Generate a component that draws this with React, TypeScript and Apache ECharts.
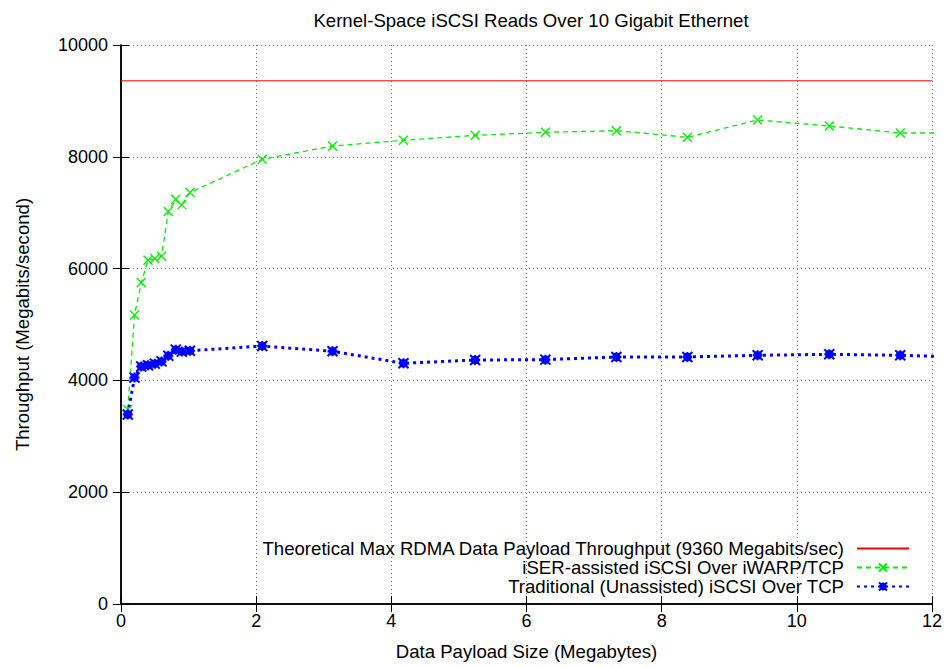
import React, { useEffect, useRef } from "react";
import * as echarts from "echarts";

const titleText = "Kernel-Space iSCSI Reads Over 10 Gigabit Ethernet";
const xName = "Data Payload Size (Megabytes)";
const yName = "Throughput (Megabits/second)";

const seriesNames = [
  "Theoretical Max RDMA Data Payload Throughput (9360 Megabits/sec)",
  "iSER-assisted iSCSI Over iWARP/TCP",
  "Traditional (Unassisted) iSCSI Over TCP",
];

const theoreticalMax = 9360;

const payloadSizes = [
  0.1, 0.2, 0.3, 0.4, 0.5, 0.6, 0.7, 0.81, 0.9, 1.02,
  2.09, 3.13, 4.18, 5.24, 6.28, 7.33, 8.38, 9.42, 10.48, 11.53, 12.58,
];

const iserThroughput = [
  3480, 5170, 5750, 6150, 6180, 6220, 7020, 7240, 7140, 7360,
  7955, 8193, 8295, 8384, 8438, 8467, 8349, 8658, 8551, 8426, 8426,
];

const traditionalThroughput = [
  3390, 4050, 4250, 4270, 4300, 4340, 4440, 4550, 4515, 4530,
  4615, 4520, 4306, 4365, 4371, 4419, 4419, 4449, 4467, 4449, 4410,
];

const xTicks = { min: 0, max: 12, interval: 2 };
const yTicks = { min: 0, max: 10000, interval: 2000 };

const FONT = "'Liberation Sans', Arial, sans-serif";
const FS = 18;
const FS_TEXT = 18.6;

const crossSymbol = "path://M0,0L10,10M10,0L0,10";
const starSymbol = "path://M0,0L10,10M10,0L0,10M5,0L5,10M0,5L10,5M2,2L8,2L8,8L2,8Z";

export default function App() {
  const ref = useRef<HTMLDivElement>(null);

  useEffect(() => {
    if (!ref.current) return;
    const chart = echarts.init(ref.current, null, { renderer: "svg" });

    const gridLine = { show: true, lineStyle: { color: "#777", type: [1, 3], width: 1 } };
    const tickIn = { show: true, inside: true, length: 8, lineStyle: { color: "#000", width: 1 } };
    const axisLineBlack = { show: true, lineStyle: { color: "#000", width: 1.5 } };

    chart.setOption({
      animation: false,
      backgroundColor: "#fff",
      textStyle: { fontFamily: FONT },
      title: {
        text: titleText,
        left: 526,
        top: 6,
        textAlign: "center",
        textStyle: { fontFamily: FONT, fontSize: FS_TEXT, fontWeight: "normal", color: "#000" },
      },
      grid: { left: 121, right: 16, top: 45, bottom: 63, containLabel: false },
      legend: {
        orient: "vertical",
        right: 38,
        top: 539,
        padding: 0,
        align: "right",
        itemWidth: 52,
        itemHeight: 10,
        itemGap: 0,
        data: [
          { name: seriesNames[0], itemStyle: { opacity: 0 } },
          { name: seriesNames[1] },
          { name: seriesNames[2] },
        ],
        textStyle: { fontFamily: FONT, fontSize: FS_TEXT, lineHeight: 19, color: "#000", padding: [0, 8, 0, 0] },
      },
      xAxis: [
        {
          type: "value",
          min: xTicks.min,
          max: xTicks.max,
          interval: xTicks.interval,
          name: xName,
          nameLocation: "middle",
          nameGap: 38,
          nameTextStyle: { fontFamily: FONT, fontSize: FS_TEXT, color: "#000" },
          axisLine: axisLineBlack,
          axisTick: tickIn,
          axisLabel: { fontFamily: FONT, fontSize: FS, color: "#000", margin: 8 },
          splitLine: gridLine,
        },
        {
          type: "value",
          position: "top",
          min: xTicks.min,
          max: xTicks.max,
          interval: xTicks.interval,
          axisLine: axisLineBlack,
          axisTick: tickIn,
          axisLabel: { show: false },
          splitLine: { show: false },
        },
      ],
      yAxis: [
        {
          type: "value",
          min: yTicks.min,
          max: yTicks.max,
          interval: yTicks.interval,
          name: yName,
          nameLocation: "middle",
          nameGap: 89,
          nameTextStyle: { fontFamily: FONT, fontSize: FS_TEXT, color: "#000" },
          axisLine: axisLineBlack,
          axisTick: tickIn,
          axisLabel: { fontFamily: FONT, fontSize: FS, color: "#000", margin: 13, formatter: (v: number) => String(v) },
          splitLine: gridLine,
        },
        {
          type: "value",
          position: "right",
          min: yTicks.min,
          max: yTicks.max,
          interval: yTicks.interval,
          axisLine: axisLineBlack,
          axisTick: tickIn,
          axisLabel: { show: false },
          splitLine: { show: false },
        },
      ],
      series: [
        {
          name: seriesNames[0],
          type: "line",
          data: [[xTicks.min, theoreticalMax], [xTicks.max, theoreticalMax]],
          showSymbol: false,
          symbol: "none",
          color: "#ff0000",
          itemStyle: { opacity: 0 },
          lineStyle: { color: "#ff0000", width: 1 },
        },
        {
          name: seriesNames[1],
          type: "line",
          data: payloadSizes.map((x, i) => [x, iserThroughput[i]]),
          symbol: crossSymbol,
          symbolSize: 9,
          color: "#00ee00",
          itemStyle: { color: "none", borderColor: "#00ee00", borderWidth: 1.3 },
          lineStyle: { color: "#00ee00", width: 1.3, type: [5, 4] },
          clip: true,
        },
        {
          name: seriesNames[2],
          type: "line",
          data: payloadSizes.map((x, i) => [x, traditionalThroughput[i]]),
          symbol: starSymbol,
          symbolSize: 10,
          color: "#0000ff",
          itemStyle: { color: "#0000ff", borderColor: "#0000ff", borderWidth: 2 },
          lineStyle: { color: "#0000ff", width: 3, type: [3, 4] },
          clip: true,
        },
      ],
    });
    return () => chart.dispose();
  }, []);

  return <div ref={ref} style={{ width: 948, height: 667, position: "absolute", left: 0, top: 0 }} />;
}
